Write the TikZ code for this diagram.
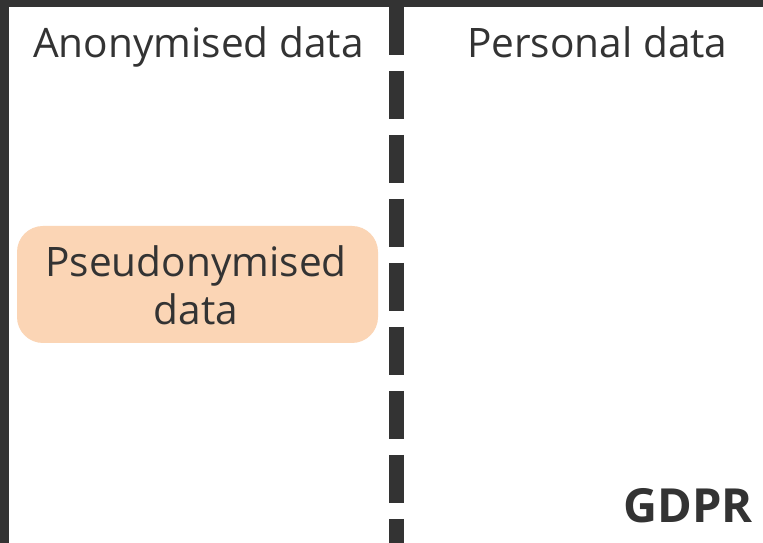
\documentclass[tikz,border=0pt]{standalone}
\usepackage{fontspec}
\setmainfont{Open Sans}
\definecolor{darkgray}{HTML}{333333}
\definecolor{peach}{HTML}{FBD5B5}
\begin{document}
\begin{tikzpicture}[x=1pt,y=1pt,
  label text/.style={inner sep=0pt, text=darkgray, font=\fontsize{40.6}{48}\selectfont},
  pseudo box/.style={fill=peach, draw=none, rounded corners=26pt},
  divider/.style={draw=darkgray, line width=15.3pt, dash pattern=on 48pt off 16pt},
  frame bar/.style={fill=darkgray, draw=none}]
\useasboundingbox (0,0) rectangle (763,543);
\fill[white] (0,0) rectangle (763,543);
% frame
\path[frame bar] (0,0) rectangle (9,543);
\path[frame bar] (0,536) rectangle (763,543);
% divider
\coordinate (dtop) at (396.3,536);
\coordinate (dbot) at (396.3,0);
\draw[divider] (dtop) -- (dbot);
% box
\path[pseudo box] (17,200) rectangle (378,317);
\node[label text, anchor=base west] (anon) at (33,485) {Anonymised data};
\node[label text, anchor=base west] (pers) at (467,485) {Personal data};
\node[label text, anchor=base] (pseudo1) at (196,266) {Pseudonymised};
\node[label text, anchor=base] (pseudo2) at (196,218) {data};
\node[label text, anchor=base east, font=\fontsize{47}{52}\selectfont\bfseries] (gdpr) at (753,20) {GDPR};
\end{tikzpicture}
\end{document}
